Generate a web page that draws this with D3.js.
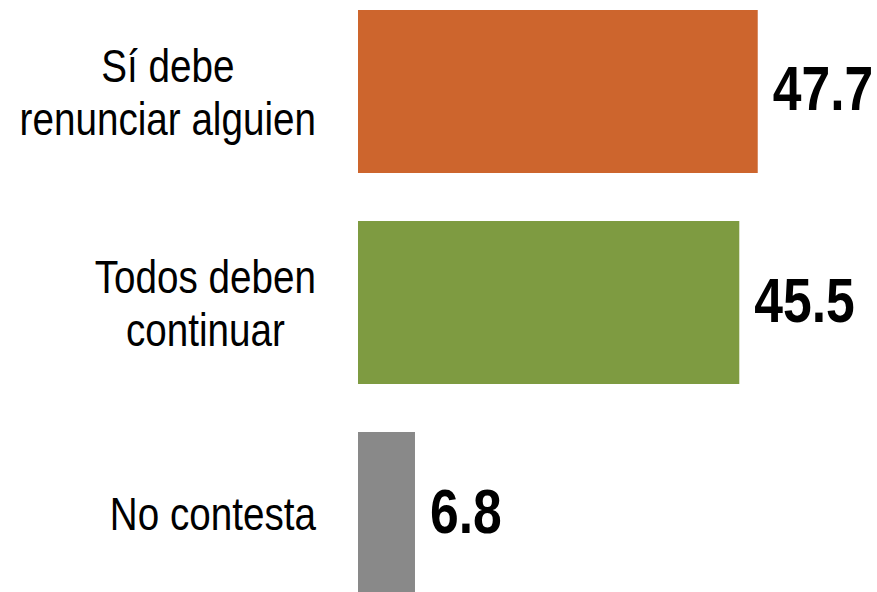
<!DOCTYPE html>
<html>
<head>
<meta charset="utf-8">
<script src="https://cdn.jsdelivr.net/npm/d3@7"></script>
<style>
  body { margin: 0; background: #fff; }
  text { font-family: "Liberation Sans", Arial, sans-serif; }
</style>
</head>
<body>
<div id="chart"></div>
<script>
var categories = [["Sí debe", "renunciar alguien"], ["Todos deben", "continuar"], ["No contesta"]];
var values = [47.7, 45.5, 6.8];
var colors = ["#CD652D", "#7E9B41", "#898989"];

var width = 877,
    height = 592;

// no narrow font installed, squeeze the glyphs instead
var narrowLabel = 0.84,
    narrowValue = 0.82;

var svg = d3.select("#chart").append("svg")
    .attr("width", width)
    .attr("height", height)

var y = d3.scaleBand()
    .domain(d3.range(values.length))
    .range([10, 595])
    .paddingInner(0.2275)
    .paddingOuter(0);

var x = d3.scaleLinear()
    .domain([0, 50])
    .range([358, 777]);

var bars = svg.selectAll(".bar")
    .data(values).enter().append("g")
    .attr("class", "bar");

bars.append("rect")
    .attr("x", x(0))
    .attr("y", function (d, i) { return y(i); })
    .attr("width", function (d) { return x(d) - x(0); })
    .attr("height", y.bandwidth())
    .attr("fill", function (d, i) { return colors[i]; });

bars.append("g")
    .attr("transform", function (d, i) {
        return "translate(" + (x(d) + 15) + "," + (y(i) + y.bandwidth() / 2 + 19) + ") scale(" + narrowValue + ",1)";
    })
    .append("text")
    .attr("font-size", 63)
    .attr("font-weight", "bold")
    .attr("fill", "#000")
    .text(function (d) { return d.toFixed(1); });

// category labels: block right edge at 315, lines centred inside the block
var lineH = 53;
var labels = svg.selectAll(".label")
    .data(categories).enter().append("g")
    .attr("class", "label");

labels.each(function (lines, i) {
    var g = d3.select(this);
    var mid = y(i) + y.bandwidth() / 2;
    var first = mid + 17 - (lines.length - 1) * lineH / 2;
    var t = g.append("text")
        .attr("font-size", 46)
        .attr("fill", "#000")
        .attr("text-anchor", "middle");
    var maxW = 0;
    lines.forEach(function (l, j) {
        var s = t.append("tspan").attr("x", 0).attr("y", first + j * lineH).text(l);
        maxW = Math.max(maxW, s.node().getComputedTextLength());
    });
    g.attr("transform", "translate(" + (316 - maxW * narrowLabel / 2) + ",0) scale(" + narrowLabel + ",1)");
});
</script>
</body>
</html>
